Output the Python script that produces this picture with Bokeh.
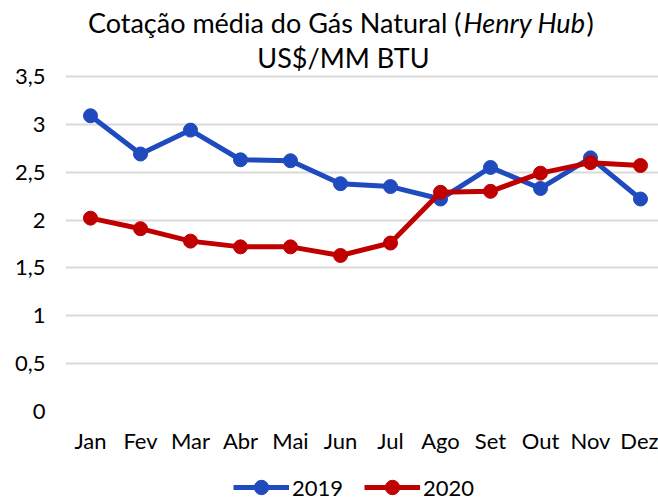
from bokeh.plotting import figure
from bokeh.layouts import column
from bokeh.models import Range1d, Legend, LegendItem, FixedTicker, Label
from bokeh.embed import file_html
from bokeh.resources import INLINE

months = ["Jan", "Fev", "Mar", "Abr", "Mai", "Jun", "Jul", "Ago", "Set", "Out", "Nov", "Dez"]
v2019 = [3.09, 2.69, 2.94, 2.63, 2.62, 2.38, 2.35, 2.22, 2.55, 2.33, 2.65, 2.22]
v2020 = [2.02, 1.91, 1.78, 1.72, 1.72, 1.63, 1.76, 2.29, 2.30, 2.49, 2.60, 2.57]
series_names = ["2019", "2020"]
y_ticks = [0, 0.5, 1, 1.5, 2, 2.5, 3, 3.5]
y_tick_labels = ["0", "0,5", "1", "1,5", "2", "2,5", "3", "3,5"]
title_part1 = "Cotação média do Gás Natural ("
title_italic = "Henry Hub"
title_part3 = ")"
title_line2 = "US$/MM BTU"

FONT = "Lato"
BLUE = "#1f4bbf"
RED = "#c00000"
W = 658
LH = 40
MH = 499 - LH
FRAME_BOTTOM = 411   # px from top of the page
GRID_TOP = 76        # px where 3,5 sits
YMAX = 3.5 * FRAME_BOTTOM / (FRAME_BOTTOM - GRID_TOP)

# ---- main plot (frame reaches the top so the title lives inside it) ----
p = figure(width=W, height=MH, output_backend="svg", toolbar_location=None,
           x_range=Range1d(-0.5, 11.36), y_range=Range1d(0, YMAX),
           min_border_left=65, min_border_right=0, min_border_top=0,
           min_border_bottom=MH - FRAME_BOTTOM)
p.outline_line_color = None
p.background_fill_color = "white"
p.border_fill_color = "white"

x = list(range(len(months)))
p.line(x, v2019, line_color=BLUE, line_width=5)
p.scatter(x, v2019, size=14, fill_color=BLUE, line_color=BLUE)
p.line(x, v2020, line_color=RED, line_width=5)
p.scatter(x, v2020, size=14, fill_color=RED, line_color=RED)

p.xaxis.ticker = FixedTicker(ticks=x)
p.xaxis.major_label_overrides = {i: m for i, m in enumerate(months)}
p.yaxis.ticker = FixedTicker(ticks=y_ticks)
p.yaxis.major_label_overrides = {tk: l for tk, l in zip(y_ticks, y_tick_labels)}
for ax in (p.xaxis[0], p.yaxis[0]):
    ax.axis_line_color = None
    ax.major_tick_line_color = None
    ax.minor_tick_line_color = None
    ax.major_tick_out = 0
    ax.major_tick_in = 0
    ax.minor_tick_out = 0
    ax.major_label_text_font = FONT
    ax.major_label_text_font_size = "22px"
    ax.major_label_text_color = "#000000"
p.yaxis.major_label_standoff = 20
p.xaxis.major_label_standoff = 15
p.xgrid.grid_line_color = None
p.ygrid.grid_line_color = "#d9d9d9"
p.ygrid.grid_line_width = 2

tkw = dict(x_units="screen", y_units="screen", text_font=FONT, text_font_size="27px",
           text_color="#000000", text_baseline="middle")
L = 65
p.add_layout(Label(x=461 - L, y=FRAME_BOTTOM - 22, text=title_part1, text_align="right", **tkw))
p.add_layout(Label(x=463 - L, y=FRAME_BOTTOM - 22, text=title_italic, text_align="left",
                   text_font_style="italic", **tkw))
p.add_layout(Label(x=586 - L, y=FRAME_BOTTOM - 22, text=title_part3, text_align="left", **tkw))
p.add_layout(Label(x=343 - L, y=FRAME_BOTTOM - 57, text=title_line2, text_align="center", **tkw))

# ---- legend strip ----
lg = figure(width=W, height=LH, output_backend="svg", toolbar_location=None,
            x_range=Range1d(100, 101), y_range=Range1d(100, 101),
            min_border_left=0, min_border_right=0, min_border_top=0, min_border_bottom=0)
lg.outline_line_color = None
lg.axis.visible = False
lg.grid.grid_line_color = None
items = []
for name, vals, col in zip(series_names, [v2019, v2020], [BLUE, RED]):
    l = lg.line(x, vals, line_color=col, line_width=5)
    s = lg.scatter(x, vals, size=14, fill_color=col, line_color=col)
    items.append(LegendItem(label=name, renderers=[l, s]))
legend = Legend(items=items, orientation="horizontal", location=(168, -6),
                label_text_font=FONT, label_text_font_size="22px", label_text_color="#000000",
                glyph_width=56, glyph_height=36, label_standoff=3, spacing=21,
                border_line_color=None, background_fill_alpha=0, margin=0, padding=0)
lg.add_layout(legend, "center")

layout = column(p, lg, spacing=0)
open("out.html", "w").write(file_html(layout, INLINE))
